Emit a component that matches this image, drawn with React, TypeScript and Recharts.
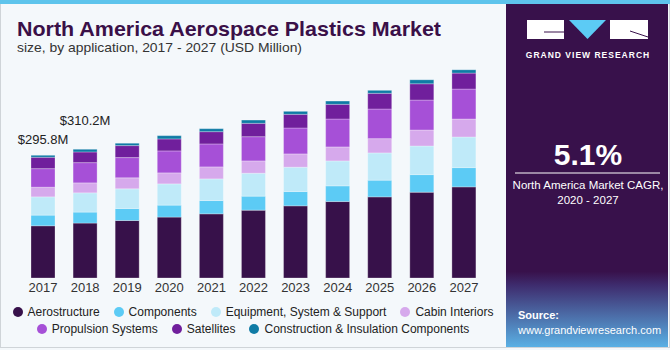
import { BarChart, Bar, XAxis, YAxis, LabelList } from 'recharts';

const years = ['2017', '2018', '2019', '2020', '2021', '2022', '2023', '2024', '2025', '2026', '2027'];

// USD Million
const aerostructure = [125.8, 132.3, 138.5, 146.7, 154.6, 163.5, 173.9, 184.2, 195.5, 206.8, 219.6];
const components = [25.7, 26.5, 28.9, 28.9, 32.0, 33.7, 34.4, 37.8, 40.2, 42.3, 46.4];
const equipment = [44.0, 46.4, 47.4, 51.2, 52.2, 55.3, 58.7, 60.1, 65.7, 69.0, 73.8];
const cabinInteriors = [23.3, 24.0, 26.5, 26.5, 28.9, 29.6, 32.0, 33.7, 34.4, 38.5, 43.3];
const propulsion = [44.7, 48.8, 48.8, 52.9, 55.3, 58.4, 62.5, 67.3, 71.4, 72.2, 72.2];
const satellites = [27.4, 25.7, 28.9, 28.9, 29.6, 32.2, 32.9, 35.4, 37.8, 39.2, 38.5];
const construction = [4.8, 6.5, 5.8, 7.9, 7.2, 7.9, 7.2, 7.9, 7.2, 9.6, 7.9];

const totalLabels = ['$295.8M', '$310.2M'];
const labelLift = [16, 29];

const series = [
  { key: 'aerostructure', name: 'Aerostructure', color: '#37114a', values: aerostructure },
  { key: 'components', name: 'Components', color: '#5ccbf5', values: components },
  { key: 'equipment', name: 'Equipment, System & Support', color: '#bfeaf9', values: equipment },
  { key: 'cabin', name: 'Cabin Interiors', color: '#d6a9ec', values: cabinInteriors },
  { key: 'propulsion', name: 'Propulsion Systems', color: '#a650d7', values: propulsion },
  { key: 'satellites', name: 'Satellites', color: '#701f9c', values: satellites },
  { key: 'construction', name: 'Construction & Insulation Components', color: '#0f7ba5', values: construction },
];

const data = years.map((year, i) => {
  const row: Record<string, string | number> = { year };
  series.forEach((s) => {
    row[s.key] = s.values[i];
  });
  return row;
});

const FONT = '"Liberation Sans", Arial, sans-serif';

// total label above the first two bars only
function TotalLabel(props: any) {
  const { x, y, width, index } = props;
  if (index >= totalLabels.length) return null;
  return (
    <text x={x + width / 2} y={y - labelLift[index] + 5} textAnchor="middle" fontSize={13} fill="#222" fontFamily={FONT}>
      {totalLabels[index]}
    </text>
  );
}

function LegendRows() {
  const rows = [series.slice(0, 4), series.slice(4)];
  return (
    <div style={{ position: 'absolute', left: 0, top: 303, width: 506, fontFamily: FONT, fontSize: 12, color: '#222' }}>
      {rows.map((row, r) => (
        <div key={r} style={{ display: 'flex', justifyContent: 'center', height: 17, alignItems: 'center' }}>
          {row.map((s) => (
            <span key={s.key} style={{ display: 'flex', alignItems: 'center', margin: '0 7px' }}>
              <span style={{ width: 10, height: 10, borderRadius: 5, background: s.color, marginRight: 5 }} />
              {s.name}
            </span>
          ))}
        </div>
      ))}
    </div>
  );
}

function SidePanel() {
  return (
    <svg width={162} height={343} style={{ position: 'absolute', left: 506, top: 4 }}>
      <defs>
        <linearGradient id="panelFade" x1="0" y1="0" x2="0" y2="1">
          <stop offset="0" stopColor="#38114b" />
          <stop offset="0.78" stopColor="#38114b" />
          <stop offset="0.82" stopColor="#3e2c6e" />
          <stop offset="1" stopColor="#5ab0e4" />
        </linearGradient>
      </defs>
      <rect x={0} y={0} width={162} height={343} fill="url(#panelFade)" />
      {/* logo */}
      <rect x={21} y={16} width={37} height={19} fill="#ffffff" />
      <line x1={38} y1={28} x2={58} y2={28} stroke="#38114b" strokeWidth={1} />
      <polygon points="63,16 100,16 81.5,35" fill="#5ccbf5" />
      <rect x={104} y={16} width={38} height={19} fill="#ffffff" />
      <line x1={124} y1={27} x2={142} y2={33} stroke="#38114b" strokeWidth={1} />
      <text x={82} y={54} textAnchor="middle" fontSize={8.5} fontWeight="bold" letterSpacing={1} fill="#ffffff" fontFamily={FONT}>
        GRAND VIEW RESEARCH
      </text>
      <text x={82} y={161} textAnchor="middle" fontSize={30} fontWeight="bold" fill="#ffffff" fontFamily={FONT}>
        5.1%
      </text>
      <line x1={9} y1={169} x2={154} y2={169} stroke="#ffffff" strokeWidth={1} />
      <text x={82} y={185} textAnchor="middle" fontSize={11.5} fill="#ffffff" fontFamily={FONT}>
        North America Market CAGR,
      </text>
      <text x={82} y={200} textAnchor="middle" fontSize={11.5} fill="#ffffff" fontFamily={FONT}>
        2020 - 2027
      </text>
      <text x={12} y={315} fontSize={11} fontWeight="bold" fill="#ffffff" fontFamily={FONT}>
        Source:
      </text>
      <text x={12} y={330} fontSize={11} fill="#ffffff" fontFamily={FONT}>
        www.grandviewresearch.com
      </text>
    </svg>
  );
}

export default function App() {
  return (
    <div
      style={{
        position: 'absolute',
        left: 0,
        top: 0,
        width: 670,
        height: 350,
        background: '#f4f8fb',
        overflow: 'hidden',
        fontFamily: FONT,
      }}
    >
      {/* frame + top stripe */}
      <div style={{ position: 'absolute', left: 0, top: 0, width: 670, height: 4, background: '#5ec4ec' }} />
      <div style={{ position: 'absolute', left: 0, top: 4, width: 668, height: 343, borderLeft: '1px solid #cfd4d8', borderRight: '1px solid #cfd4d8', borderBottom: '1px solid #cfd4d8' }} />

      <svg width={500} height={60} style={{ position: 'absolute', left: 0, top: 0 }}>
        <text x={17} y={36} fontSize={21} fontWeight="bold" fill="#3a1048" fontFamily={FONT} textLength={424} lengthAdjust="spacingAndGlyphs">
          North America Aerospace Plastics Market
        </text>
        <text x={17} y={52} fontSize={13.5} fill="#333" fontFamily={FONT} textLength={285} lengthAdjust="spacingAndGlyphs">
          size, by application, 2017 - 2027 (USD Million)
        </text>
      </svg>

      <div style={{ position: 'absolute', left: 0, top: 0 }}>
        <BarChart width={500} height={310} data={data} margin={{ top: 29, right: 15, left: 22, bottom: 0 }}>
          <XAxis
            dataKey="year"
            height={32}
            axisLine={false}
            tickLine={false}
            tickSize={0}
            tickMargin={5}
            interval={0}
            tick={{ fontSize: 13, fill: '#333', fontFamily: FONT }}
          />
          <YAxis hide domain={[0, 600]} />
          {series.map((s, i) => (
            <Bar
              key={s.key}
              dataKey={s.key}
              name={s.name}
              stackId="total"
              fill={s.color}
              stroke="#ffffff"
              strokeOpacity={0.35}
              strokeWidth={0.8}
              barSize={24}
              isAnimationActive={false}
            >
              {i === series.length - 1 && <LabelList dataKey={s.key} content={TotalLabel} />}
            </Bar>
          ))}
        </BarChart>
      </div>

      <LegendRows />
      <SidePanel />
    </div>
  );
}
